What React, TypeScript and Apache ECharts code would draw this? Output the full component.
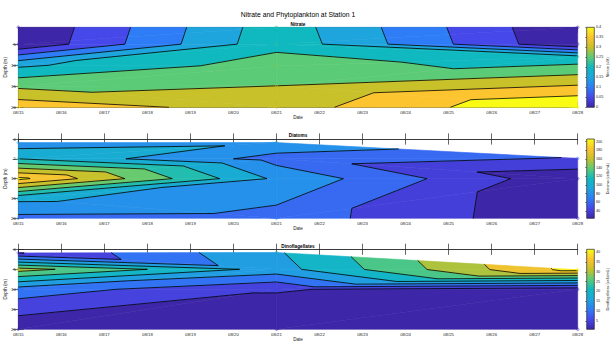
import React, { useEffect, useRef } from 'react';
import * as echarts from 'echarts';

// ---------------- data ----------------
const DATE_LABELS = ['08/15','08/16','08/17','08/18','08/19','08/20','08/21','08/22','08/23','08/24','08/25','08/26','08/27','08/28'];
const SAMPLE_DAYS = [0, 6, 13]; // 08/15, 08/21, 08/28

const NITRATE_DEPTHS = [[1, 5, 10, 15, 20], [1, 5, 10.2, 14.9, 20], [1, 5, 8, 20]];
const NITRATE_VALUES = [[0.0, 0.005, 0.19, 0.29, 0.385], [0.23, 0.235, 0.275, 0.3, 0.325], [0.0, 0.005, 0.215, 0.455]];
const NITRATE_LEVELS = [0.05, 0.1, 0.15, 0.2, 0.25, 0.3, 0.35, 0.4];
const NITRATE_CLIM = [0, 0.4];
const NITRATE_CB_TICKS = [0, 0.05, 0.1, 0.15, 0.2, 0.25, 0.3, 0.35, 0.4];

const DIATOM_DEPTHS = [[0.9, 5, 10, 15, 20], [0.9, 5, 10, 20], [4.9, 10, 20]];
const DIATOM_VALUES = [[88, 120, 205, 105, 74], [95, 72, 96, 72], [58, 24, 23]];
const DIATOM_LEVELS = [40, 60, 80, 100, 120, 140, 160, 180, 200];
const DIATOM_CLIM = [23, 206];
const DIATOM_CB_TICKS = [40, 60, 80, 100, 120, 140, 160, 180, 200];

const DINO_DEPTHS = [[0.9, 5, 10, 20], [0.8, 5, 10, 20], [5.1, 10, 20]];
const DINO_VALUES = [[4.7, 32, 12.8, 1], [19.4, 18, 5.4, 1], [42, 2, 1]];
const DINO_LEVELS = [5, 10, 15, 20, 25, 30, 35, 40];
const DINO_CLIM = [0.8, 41.4];
const DINO_CB_TICKS = [5, 10, 15, 20, 25, 30, 35, 40];

const DEPTH_TICKS = [0, 5, 10, 15, 20];
const NITRATE_DEPTH_TICKS = [5, 10, 15, 20];

const TITLES = ['Nitrate', 'Diatoms', 'Dinoflagellates'];
const CB_TITLES = ['Nitrate (uM)', 'Diatoms (cells/mL)', 'Dinoflagellates (cells/mL)'];
const MAIN_TITLE = 'Nitrate and Phytoplankton at Station 1';

// ---------------- helpers ----------------
const PARULA = ['#3e26a8', '#4648e9', '#2e7df6', '#1ea5dd', '#10b9bf', '#5ccb77', '#c8c12a', '#fcc42f', '#f9fb14'];
const FONT = 'Liberation Sans, Arial, Helvetica, sans-serif';
const AX = '#262626';

function hexRgb(h: string) {
  return [parseInt(h.slice(1, 3), 16), parseInt(h.slice(3, 5), 16), parseInt(h.slice(5, 7), 16)];
}
function parula(t: number) {
  t = Math.max(0, Math.min(1, t));
  const s = t * (PARULA.length - 1);
  const i = Math.min(Math.floor(s), PARULA.length - 2);
  const f = s - i;
  const a = hexRgb(PARULA[i]);
  const b = hexRgb(PARULA[i + 1]);
  const c = a.map((v, k) => Math.round(v + (b[k] - v) * f));
  return `rgb(${c[0]},${c[1]},${c[2]})`;
}

type P3 = { x: number; y: number; v: number };

function lerp(a: P3, b: P3, t: number): P3 {
  return { x: a.x + (b.x - a.x) * t, y: a.y + (b.y - a.y) * t, v: a.v + (b.v - a.v) * t };
}
function clipPoly(poly: P3[], f: (p: P3) => number): P3[] {
  const out: P3[] = [];
  const n = poly.length;
  for (let i = 0; i < n; i++) {
    const cur = poly[i];
    const prev = poly[(i + n - 1) % n];
    const fc = f(cur);
    const fp = f(prev);
    if (fc >= 0) {
      if (fp < 0) out.push(lerp(prev, cur, fp / (fp - fc)));
      out.push(cur);
    } else if (fp >= 0) {
      out.push(lerp(prev, cur, fp / (fp - fc)));
    }
  }
  return out;
}

function delaunay(px: number[], py: number[]): number[][] {
  const n = px.length;
  const minX = Math.min(...px), maxX = Math.max(...px);
  const minY = Math.min(...py), maxY = Math.max(...py);
  const d = Math.max(maxX - minX, maxY - minY) || 1;
  const mx = (minX + maxX) / 2, my = (minY + maxY) / 2;
  const X = px.concat([mx - 1000 * d, mx, mx + 1000 * d]);
  const Y = py.concat([my - 1000 * d, my + 1000 * d, my - 1000 * d]);
  const mk = (a: number, b: number, c: number) => {
    const ax = X[a], ay = Y[a], bx = X[b], by = Y[b], cx = X[c], cy = Y[c];
    const dd = 2 * (ax * (by - cy) + bx * (cy - ay) + cx * (ay - by));
    const a2 = ax * ax + ay * ay, b2 = bx * bx + by * by, c2 = cx * cx + cy * cy;
    const ux = (a2 * (by - cy) + b2 * (cy - ay) + c2 * (ay - by)) / dd;
    const uy = (a2 * (cx - bx) + b2 * (ax - cx) + c2 * (bx - ax)) / dd;
    return { a, b, c, ux, uy, r2: (ax - ux) ** 2 + (ay - uy) ** 2, area: Math.abs(dd) / 4 };
  };
  let tris = [mk(n, n + 1, n + 2)];
  for (let i = 0; i < n; i++) {
    const bad: any[] = [];
    const good: any[] = [];
    for (const t of tris) {
      const dx = X[i] - t.ux, dy = Y[i] - t.uy;
      if (dx * dx + dy * dy < t.r2 * (1 - 1e-10)) bad.push(t);
      else good.push(t);
    }
    const cnt = new Map<string, number[]>();
    for (const t of bad) {
      for (const [p, q] of [[t.a, t.b], [t.b, t.c], [t.c, t.a]]) {
        const k = p < q ? p + ',' + q : q + ',' + p;
        const e = cnt.get(k);
        if (e) e[2]++;
        else cnt.set(k, [p, q, 1]);
      }
    }
    for (const [p, q, c] of cnt.values()) if (c === 1) good.push(mk(p, q, i));
    tris = good;
  }
  return tris.filter((t) => t.a < n && t.b < n && t.c < n && t.area > 1e-9).map((t) => [t.a, t.b, t.c]);
}

function buildNodes(depths: number[][], values: number[][]): P3[] {
  const nodes: P3[] = [];
  SAMPLE_DAYS.forEach((day, j) => {
    depths[j].forEach((dep, k) => nodes.push({ x: day, y: dep, v: values[j][k] }));
  });
  return nodes;
}

// ---------------- layout ----------------
const PLOT_LEFT = 18.3;
const PLOT_WIDTH = 559.4;
const PANEL_TOP = [27.3, 139, 249.3];
const PANEL_H = [80, 79.3, 80];
const CB_LEFT = 586.7;
const CB_WIDTH = 7.6;

function buildOption() {
  const panels = [
    { depths: NITRATE_DEPTHS, values: NITRATE_VALUES, levels: NITRATE_LEVELS, clim: NITRATE_CLIM, cbTicks: NITRATE_CB_TICKS, yMin: 1, yTicks: NITRATE_DEPTH_TICKS },
    { depths: DIATOM_DEPTHS, values: DIATOM_VALUES, levels: DIATOM_LEVELS, clim: DIATOM_CLIM, cbTicks: DIATOM_CB_TICKS, yMin: 0, yTicks: DEPTH_TICKS },
    { depths: DINO_DEPTHS, values: DINO_VALUES, levels: DINO_LEVELS, clim: DINO_CLIM, cbTicks: DINO_CB_TICKS, yMin: 0, yTicks: DEPTH_TICKS },
  ];

  const plotGrids: any[] = [];
  const cbGrids: any[] = [];
  const plotX: any[] = [];
  const cbX: any[] = [];
  const plotY: any[] = [];
  const cbY: any[] = [];
  const series: any[] = [];
  const graphic: any[] = [];

  const axLine = { show: true, lineStyle: { color: AX, width: 0.7 } };
  const tick = (len: number) => ({ show: true, inside: true, length: len, lineStyle: { color: AX, width: 0.7 } });
  const lblStyle = { fontSize: 4.3, color: AX, fontFamily: FONT };

  graphic.push({
    type: 'text', x: PLOT_LEFT + PLOT_WIDTH / 2, y: 14,
    style: { text: MAIN_TITLE, fontSize: 6.8, fill: '#000', fontFamily: FONT, textAlign: 'center', textVerticalAlign: 'middle' },
  });

  panels.forEach((p, i) => {
    const top = PANEL_TOP[i];
    const h = PANEL_H[i];
    plotGrids.push({ left: PLOT_LEFT, top, width: PLOT_WIDTH, height: h, containLabel: false, outerBoundsMode: 'none' });
    graphic.push({
      type: 'text', x: PLOT_LEFT + PLOT_WIDTH / 2, y: top - 3.3,
      style: { text: TITLES[i], fontSize: 4.7, fontWeight: 'bold', fill: '#000', fontFamily: FONT, textAlign: 'center', textVerticalAlign: 'middle' },
    });
    plotX.push({
      gridIndex: i, type: 'value', min: 0, max: DATE_LABELS.length - 1, interval: 1, position: 'bottom',
      axisLine: axLine, axisTick: tick(5.6), splitLine: { show: false },
      axisLabel: { ...lblStyle, margin: 3, formatter: (v: number) => DATE_LABELS[v] ?? '' },
      name: 'Date', nameLocation: 'middle', nameGap: 8, nameMoveOverlap: false,
      nameTextStyle: { fontSize: 4.6, color: AX, fontFamily: FONT },
    });
    plotX.push({
      gridIndex: i, type: 'value', min: 0, max: DATE_LABELS.length - 1, interval: 1, position: 'top',
      axisLine: axLine, axisTick: tick(5.6), splitLine: { show: false }, axisLabel: { show: false },
    });
    plotY.push({
      gridIndex: i, type: 'value', inverse: true, min: p.yMin, max: 20, position: 'left',
      axisLine: axLine,
      axisTick: { ...tick(5.6), customValues: p.yTicks },
      splitLine: { show: false },
      axisLabel: { ...lblStyle, margin: 2.5, customValues: p.yTicks },
      name: 'Depth (m)', nameLocation: 'middle', nameGap: 10, nameRotate: 90, nameMoveOverlap: false,
      nameTextStyle: { fontSize: 4.6, color: AX, fontFamily: FONT },
    });
    plotY.push({
      gridIndex: i, type: 'value', inverse: true, min: p.yMin, max: 20, position: 'right',
      axisLine: axLine, axisTick: { ...tick(5.6), customValues: p.yTicks },
      splitLine: { show: false }, axisLabel: { show: false, customValues: p.yTicks },
    });

    const nodes = buildNodes(p.depths, p.values);
    const tris = delaunay(nodes.map((n) => n.x), nodes.map((n) => n.y));
    const triData = tris.map((t) => {
      const arr: number[] = [];
      t.forEach((k) => arr.push(nodes[k].x, nodes[k].y, nodes[k].v));
      return arr;
    });
    const [c0, c1] = p.clim;
    const bounds = [-Infinity, ...p.levels, Infinity];
    const bandColor = (k: number) => (k === 0 ? parula(0) : parula((p.levels[k - 1] - c0) / (c1 - c0)));
    const readTri = (api: any): P3[] =>
      [0, 1, 2].map((j) => ({ x: api.value(j * 3), y: api.value(j * 3 + 1), v: api.value(j * 3 + 2) }));

    series.push({
      type: 'custom', xAxisIndex: 2 * i, yAxisIndex: 2 * i, data: triData, silent: true, z: 1,
      encode: { x: [0, 3, 6], y: [1, 4, 7] },
      renderItem: (_params: any, api: any) => {
        const tri = readTri(api);
        const children: any[] = [];
        for (let k = 0; k < bounds.length - 1; k++) {
          const lo = bounds[k], hi = bounds[k + 1];
          let poly = clipPoly(tri, (q) => q.v - lo);
          poly = clipPoly(poly, (q) => hi - q.v);
          if (poly.length < 3) continue;
          const col = bandColor(k);
          children.push({
            type: 'polygon',
            shape: { points: poly.map((q) => api.coord([q.x, q.y])) },
            style: { fill: col, stroke: col, lineWidth: 0.6 },
          });
        }
        return { type: 'group', children };
      },
    });
    series.push({
      type: 'custom', xAxisIndex: 2 * i, yAxisIndex: 2 * i, data: triData, silent: true, z: 2,
      encode: { x: [0, 3, 6], y: [1, 4, 7] },
      renderItem: (_params: any, api: any) => {
        const tri = readTri(api);
        const children: any[] = [];
        for (const L of p.levels) {
          const pts: P3[] = [];
          for (let e = 0; e < 3; e++) {
            const a = tri[e], b = tri[(e + 1) % 3];
            if ((a.v >= L) !== (b.v >= L)) pts.push(lerp(a, b, (L - a.v) / (b.v - a.v)));
          }
          if (pts.length === 2) {
            const A = api.coord([pts[0].x, pts[0].y]);
            const B = api.coord([pts[1].x, pts[1].y]);
            children.push({
              type: 'line',
              shape: { x1: A[0], y1: A[1], x2: B[0], y2: B[1] },
              style: { stroke: '#000', lineWidth: 0.8 },
            });
          }
        }
        return { type: 'group', children };
      },
    });
    series.push({
      type: 'scatter', xAxisIndex: 2 * i, yAxisIndex: 2 * i, silent: true, z: 3,
      symbol: 'circle', symbolSize: 2.6,
      data: nodes.map((n) => ({
        value: [n.x, n.y, n.v],
        itemStyle: { color: 'rgba(0,0,0,0)', borderColor: parula((n.v - c0) / (c1 - c0)), borderWidth: 0.7 },
      })),
    });

    // colorbar
    cbGrids.push({ left: CB_LEFT, top, width: CB_WIDTH, height: h, containLabel: false, outerBoundsMode: 'none' });
    cbX.push({ gridIndex: 3 + i, type: 'value', min: 0, max: 1, show: false });
    cbY.push({
      gridIndex: 3 + i, type: 'value', min: c0, max: c1, position: 'right',
      axisLine: { show: false },
      axisTick: { show: true, inside: true, length: 1.5, lineStyle: { color: AX, width: 0.6 }, customValues: p.cbTicks },
      splitLine: { show: false },
      axisLabel: { fontSize: 3.8, color: AX, fontFamily: FONT, margin: 1.6, customValues: p.cbTicks, formatter: (v: number) => String(+v.toFixed(3)) },
      name: CB_TITLES[i], nameLocation: 'middle', nameGap: 11.8, nameRotate: 90, nameMoveOverlap: false,
      nameTextStyle: { fontSize: 3.8, color: AX, fontFamily: FONT },
    });
    const stops = PARULA.map((c, k) => ({ offset: k / (PARULA.length - 1), color: c }));
    series.push({
      type: 'custom', xAxisIndex: 6 + i, yAxisIndex: 6 + i, silent: true,
      data: [[0, c0, 1, c1]],
      renderItem: (_params: any, api: any) => {
        const A = api.coord([api.value(0), api.value(1)]);
        const B = api.coord([api.value(2), api.value(3)]);
        return {
          type: 'rect',
          shape: { x: A[0], y: B[1], width: B[0] - A[0], height: A[1] - B[1] },
          style: { fill: new echarts.graphic.LinearGradient(0, 1, 0, 0, stops), stroke: AX, lineWidth: 0.7 },
        };
      },
    });
  });

  return {
    animation: false,
    backgroundColor: '#fff',
    textStyle: { fontFamily: FONT },
    grid: [...plotGrids, ...cbGrids],
    xAxis: [...plotX, ...cbX],
    yAxis: [...plotY, ...cbY],
    series,
    graphic,
  };
}

export default function App() {
  const ref = useRef<HTMLDivElement>(null);
  useEffect(() => {
    if (!ref.current) return;
    const chart = echarts.init(ref.current, undefined, { renderer: 'svg' });
    chart.setOption(buildOption() as any);
    return () => chart.dispose();
  }, []);
  return <div ref={ref} style={{ position: 'fixed', left: 0, top: 0, width: 614, height: 343, background: '#fff' }} />;
}
